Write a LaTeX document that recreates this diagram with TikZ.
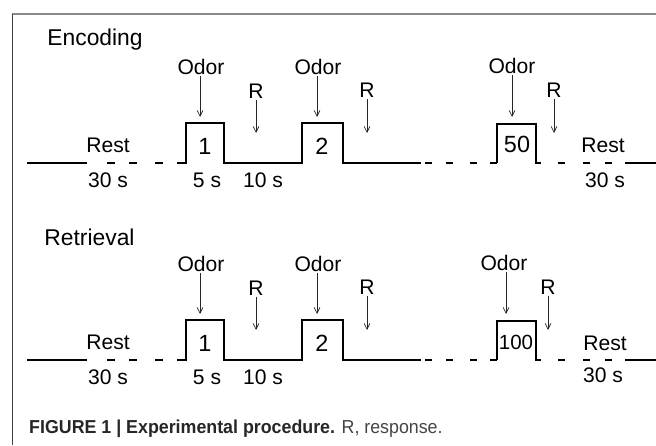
\documentclass[tikz,border=0pt]{standalone}
\usepackage{fontspec}
\setmainfont{Liberation Sans}
\newfontfamily\capfont[FakeStretch=0.95]{Liberation Sans}
\usetikzlibrary{arrows.meta,positioning}
\definecolor{framegray}{HTML}{8A8A8A}
\definecolor{capgray}{HTML}{444444}
\tikzset{
    trace/.style={line width=1.5pt, black},
    cue/.style={-{Straight Barb[length=5pt, width=5pt]}, line width=0.6pt, black!85},
    lbl/.style={font=\fontsize{18}{22}\selectfont, inner sep=1pt},
    num/.style={font=\fontsize{20}{24}\selectfont, inner sep=0pt},
    title/.style={font=\fontsize{19.5}{23}\selectfont, inner sep=1pt, anchor=west}
}

\begin{document}
\begin{tikzpicture}[x=0.03cm, y=-0.03cm]
            \useasboundingbox (0,0) rectangle (656,445);
            % frame
            \draw[framegray, line width=1.6pt] (12,14) -- (656,14);
            \draw[black!75, line width=1.1pt] (12.5,14) -- (12.5,445);

            % Encoding
            \node[title] (encA) at (46,40) {Encoding};
            \draw[trace] (27,163) -- (87,163);
            \foreach \a in {107,129,155,177} \draw[trace] (\a,163) -- ++(8,0);
            \draw[trace] (185,163) -- (186,163) -- (186,123) -- (224,123) -- (224,163)
                -- (302,163) -- (302,123) -- (343,123) -- (343,163) -- (421,163);
            \foreach \a in {425,446,470,490} \draw[trace] (\a,163) -- ++(7,0);
            \draw[trace] (497,163) -- (497,124) -- (536,124) -- (536,163) -- (541,163);
            \foreach \a in {558,583,605} \draw[trace] (\a,163) -- ++(7,0);
            \draw[trace] (625,163) -- (656,163);

            \node[num] (pA1) at (205,146) {1};
            \node[num] (pA2) at (322,146) {2};
            \node[num] (pA3) at (517,144) {50};

            \node[lbl] (odorA1) at (201,67) {Odor};
            \node[lbl] (odorA2) at (318,67) {Odor};
            \node[lbl] (odorA3) at (512,66) {Odor};
            \coordinate (hitA1) at (200,117);
            \coordinate (hitA2) at (317,117);
            \coordinate (hitA3) at (512,117);
            \draw[cue] (odorA1.south -| hitA1) -- (hitA1);
            \draw[cue] (odorA2.south -| hitA2) -- (hitA2);
            \draw[cue] (odorA3.south -| hitA3) -- (hitA3);

            \node[lbl] (rA1) at (256,91) {R};
            \node[lbl] (rA2) at (367,90) {R};
            \node[lbl] (rA3) at (554,90) {R};
            \coordinate (tipA1) at (256,133);
            \coordinate (tipA2) at (367,133);
            \coordinate (tipA3) at (554,133);
            \draw[cue] (rA1) -- (tipA1);
            \draw[cue] (rA2) -- (tipA2);
            \draw[cue] (rA3) -- (tipA3);

            \node[lbl] (restA1) at (108,145) {Rest};
            \node[lbl] (durA1) at (108,180) {30 s};
            \node[lbl] (durA2) at (207,180) {5 s};
            \node[lbl] (durA3) at (263,180) {10 s};
            \node[lbl] (restA2) at (603,145) {Rest};
            \node[lbl] (durA4) at (605,180) {30 s};

            % Retrieval
            \begin{scope}[shift={(0,197)}]
            \node[title] (encB) at (43,40) {Retrieval};
            \draw[trace] (27,163) -- (87,163);
            \foreach \a in {107,129,155,177} \draw[trace] (\a,163) -- ++(8,0);
            \draw[trace] (185,163) -- (186,163) -- (186,123) -- (224,123) -- (224,163)
                -- (302,163) -- (302,123) -- (343,123) -- (343,163) -- (421,163);
            \foreach \a in {425,446,470,490} \draw[trace] (\a,163) -- ++(7,0);
            \draw[trace] (497,163) -- (497,124) -- (536,124) -- (536,163) -- (541,163);
            \foreach \a in {558,583,605} \draw[trace] (\a,163) -- ++(7,0);
            \draw[trace] (625,163) -- (656,163);

            \node[num] (pB1) at (205,146) {1};
            \node[num] (pB2) at (322,146) {2};
            \node[num, font=\fontsize{17.5}{21}\selectfont] (pB3) at (516,145) {100};

            \node[lbl] (odorB1) at (201,67) {Odor};
            \node[lbl] (odorB2) at (318,67) {Odor};
            \node[lbl] (odorB3) at (504,66) {Odor};
            \coordinate (hitB1) at (200,117);
            \coordinate (hitB2) at (317,117);
            \coordinate (hitB3) at (506,117);
            \draw[cue] (odorB1.south -| hitB1) -- (hitB1);
            \draw[cue] (odorB2.south -| hitB2) -- (hitB2);
            \draw[cue] (odorB3.south -| hitB3) -- (hitB3);

            \node[lbl] (rB1) at (256,91) {R};
            \node[lbl] (rB2) at (367,90) {R};
            \node[lbl] (rB3) at (548,90) {R};
            \coordinate (tipB1) at (256,133);
            \coordinate (tipB2) at (367,133);
            \coordinate (tipB3) at (548,133);
            \draw[cue] (rB1) -- (tipB1);
            \draw[cue] (rB2) -- (tipB2);
            \draw[cue] (rB3) -- (tipB3);

            \node[lbl] (restB1) at (108,145) {Rest};
            \node[lbl] (durB1) at (108,180) {30 s};
            \node[lbl] (durB2) at (207,180) {5 s};
            \node[lbl] (durB3) at (263,180) {10 s};
            \node[lbl] (restB2) at (605,146) {Rest};
            \node[lbl] (durB4) at (603,178) {30 s};
            \end{scope}

            % caption
            \node[anchor=west, inner sep=0pt, font=\capfont\fontsize{16}{19}\selectfont, text=capgray] (cap) at (29,429)
                {\textbf{\color{black!85}FIGURE 1 | Experimental procedure.} R, response.};
        \end{tikzpicture}
\end{document}
